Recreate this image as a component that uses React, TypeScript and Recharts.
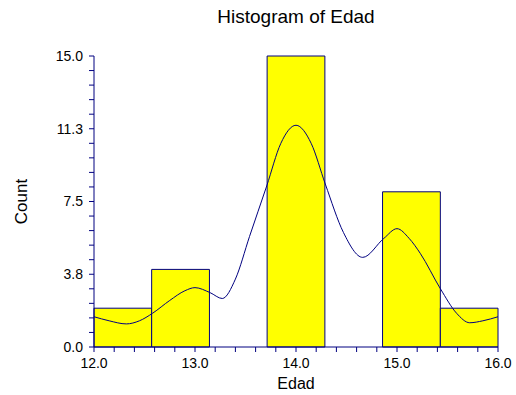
import {
  ComposedChart,
  Line,
  XAxis,
  YAxis,
  ReferenceArea,
  Label,
} from "recharts"

// histogram bins of Edad (7 bins between 12 and 16)
const binStarts = [12.0, 12.571, 13.143, 13.714, 14.286, 14.857, 15.429]
const binEnds = [12.571, 13.143, 13.714, 14.286, 14.857, 15.429, 16.0]
const binCounts = [2, 4, 0, 15, 0, 8, 2]

// smoothed density curve (in count units)
const curveX = [
  12.0, 12.15, 12.32, 12.45, 12.58, 12.75, 12.9, 13.0, 13.15, 13.27, 13.4, 13.54, 13.71,
  13.85, 14.0, 14.15, 14.29, 14.47, 14.66, 14.87, 15.0, 15.12, 15.23, 15.43, 15.59, 15.72,
  15.85, 16.0,
]
const curveY = [
  1.56, 1.35, 1.19, 1.35, 1.74, 2.4, 2.9, 3.06, 2.8, 2.5, 3.5, 5.7, 8.3,
  10.5, 11.43, 10.5, 8.4, 5.9, 4.62, 5.6, 6.1, 5.6, 4.83, 3.0, 1.74, 1.25,
  1.35, 1.56,
]

const xTicks = [
  12.0, 12.2, 12.4, 12.6, 12.8, 13.0, 13.2, 13.4, 13.6, 13.8, 14.0, 14.2, 14.4, 14.6, 14.8,
  15.0, 15.2, 15.4, 15.6, 15.8, 16.0,
]
const xTickLabels = ["12.0", "13.0", "14.0", "15.0", "16.0"]
const yTicks = [
  0, 0.75, 1.5, 2.25, 3, 3.75, 4.5, 5.25, 6, 6.75, 7.5, 8.25, 9, 9.75, 10.5, 11.25, 12,
  12.75, 13.5, 14.25, 15,
]
const yTickLabels = ["0.0", "3.8", "7.5", "11.3", "15.0"]

const curve = curveX.map((x, i) => ({ x, density: curveY[i] }))

const navy = "#000080"
const font = "'Liberation Sans', Arial, sans-serif"

export default function App() {
  return (
    <div style={{ position: "absolute", left: 0, top: 0, width: 516, height: 395, background: "#fff", fontFamily: font }}>
      <div
        style={{
          position: "absolute",
          left: 94,
          width: 404,
          top: 6,
          textAlign: "center",
          fontSize: 19,
          color: "#000",
        }}
      >
        Histogram of Edad
      </div>
      <ComposedChart
        width={516}
        height={395}
        data={curve}
        margin={{ top: 56, right: 18, bottom: 0, left: 0 }}
      >
        <XAxis
          dataKey="x"
          type="number"
          domain={[12, 16]}
          ticks={xTicks}
          interval={0}
          allowDataOverflow
          height={48}
          stroke={navy}
          tickSize={5}
          tickMargin={6}
          tick={{ fill: "#000", fontSize: 14, fontFamily: font }}
          tickFormatter={(v: number) => {
            const idx = xTickLabels.indexOf(v.toFixed(1))
            return Number.isInteger(Math.round(v * 10) / 10) && idx >= 0 ? xTickLabels[idx] : ""
          }}
        >
          <Label value="Edad" position="insideBottom" offset={6} style={{ fontSize: 16, fill: "#000", fontFamily: font }} />
        </XAxis>
        <YAxis
          type="number"
          domain={[0, 15]}
          ticks={yTicks}
          interval={0}
          width={94}
          stroke={navy}
          tickSize={5}
          tickMargin={6}
          tick={{ fill: "#000", fontSize: 14, fontFamily: font }}
          tickFormatter={(v: number, i: number) => (i % 5 === 0 ? yTickLabels[i / 5] : "")}
        >
          <Label
            value="Count"
            angle={-90}
            position="insideLeft"
            offset={21}
            style={{ fontSize: 17, fill: "#000", fontFamily: font, textAnchor: "middle" }}
          />
        </YAxis>
        {binCounts.map((c, i) => (
          <ReferenceArea
            key={i}
            x1={binStarts[i]}
            x2={binEnds[i]}
            y1={0}
            y2={c}
            fill="#ffff00"
            fillOpacity={1}
            stroke={navy}
            strokeWidth={1}
            ifOverflow="visible"
          />
        ))}
        <Line
          dataKey="density"
          type="monotone"
          stroke={navy}
          strokeWidth={1}
          dot={false}
          isAnimationActive={false}
        />
      </ComposedChart>
    </div>
  )
}
